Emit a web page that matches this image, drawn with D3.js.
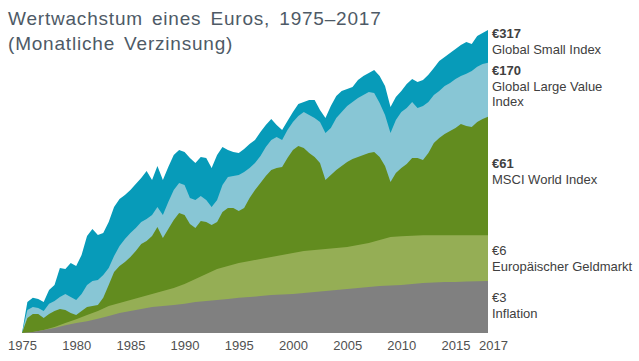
<!DOCTYPE html>
<html>
<head>
<meta charset="utf-8">
<script src="https://cdn.jsdelivr.net/npm/d3@7"></script>
<style>
  body { margin: 0; background: #fff; }
  svg { display: block; font-family: "Liberation Sans", Arial, sans-serif; }
</style>
</head>
<body>
<div id="chart"></div>
<script>
const smallCap = [
  1.00, 1.80, 1.95, 1.91, 1.80, 2.26, 2.49, 3.44, 3.38, 3.78,
  3.57, 4.41, 6.32, 7.22, 6.44, 6.69, 8.25, 10.97, 12.78, 13.79,
  15.16, 17.0, 19.05, 21.76, 18.34, 23.93, 18.34, 23.48, 29.49, 32.44,
  31.23, 27.86, 25.33, 28.39, 27.86, 23.04, 29.49, 34.34, 32.44, 31.23,
  30.64, 33.06, 36.36, 39.22, 45.67, 52.18, 58.48, 52.18, 47.44, 56.3,
  66.76, 77.7, 80.8, 83.96, 83.96, 69.3, 59.6, 74.8, 90.6, 99.6,
  103.5, 107.5, 122.8, 132.5, 140.3, 148.5, 132.5, 109.6, 73.4, 88.9,
  99.6, 113.8, 125.2, 118.2, 122.8, 135.1, 154.3, 176.2, 190.1, 205.2,
  221.4, 238.9, 252.9, 243.5, 283.4, 300.1, 317
];
const largeValue = [
  1.00, 1.55, 1.64, 1.61, 1.52, 1.74, 1.84, 1.98, 2.10, 1.98,
  1.87, 2.10, 2.49, 2.69, 2.74, 3.01, 3.44, 4.32, 5.23, 5.97,
  6.69, 7.36, 8.25, 8.74, 9.43, 10.97, 9.43, 12.07, 15.16, 17.32,
  16.67, 13.02, 12.54, 13.53, 12.54, 10.97, 12.54, 16.67, 19.41, 19.79,
  20.17, 21.35, 23.04, 25.33, 28.94, 34.34, 39.22, 41.53, 39.22, 47.44,
  55.24, 61.92, 66.76, 63.11, 59.6, 55.24, 44.81, 49.28, 59.6, 66.76,
  74.8, 80.8, 87.2, 92.3, 97.7, 95.9, 79.3, 63.1, 44.8, 57.4,
  66.8, 72.0, 80.8, 72.0, 74.8, 80.8, 92.3, 99.6, 109.6, 116.0,
  125.2, 132.5, 137.7, 145.7, 157.3, 166.5, 170
];
const msciWorld = [
  1.00, 1.33, 1.435, 1.435, 1.33, 1.435, 1.52, 1.58, 1.55, 1.46,
  1.41, 1.52, 1.64, 1.67, 1.70, 1.95, 2.49, 3.19, 3.57, 3.86,
  4.24, 4.75, 5.43, 5.75, 6.32, 7.50, 6.09, 7.22, 8.57, 9.79,
  9.43, 7.94, 7.36, 8.41, 8.25, 7.79, 8.25, 9.98, 10.77, 10.77,
  10.17, 10.77, 13.02, 15.16, 17.32, 19.79, 22.18, 23.04, 23.48, 27.86,
  32.44, 35.0, 33.7, 30.64, 28.39, 25.33, 18.34, 20.17, 22.18, 23.93,
  25.82, 27.33, 28.39, 29.49, 30.64, 31.23, 28.39, 23.93, 17.65, 20.95,
  23.04, 24.86, 27.86, 27.86, 26.82, 30.64, 37.05, 40.75, 43.97, 46.55,
  49.28, 53.18, 51.19, 50.23, 55.24, 58.48, 61
];
// jährlich (Januar), letzter Punkt = Ende 2017
const geldmarkt = [
  1.00, 1.02, 1.06, 1.12, 1.21, 1.30, 1.41, 1.52, 1.67, 1.77,
  1.87, 1.98, 2.10, 2.22, 2.35, 2.54, 2.79, 3.07, 3.38, 3.57,
  3.78, 3.93, 4.08, 4.24, 4.41, 4.58, 4.75, 4.85, 4.94, 5.03,
  5.13, 5.33, 5.54, 5.86, 6.2, 6.3, 6.35, 6.4, 6.4, 6.4,
  6.4, 6.4, 6.4, 6.4
];
const inflation = [
  1.00, 1.02, 1.06, 1.10, 1.16, 1.21, 1.25, 1.31, 1.38, 1.46,
  1.52, 1.58, 1.64, 1.67, 1.70, 1.74, 1.80, 1.84, 1.87, 1.91,
  1.95, 1.98, 2.02, 2.06, 2.08, 2.10, 2.14, 2.18, 2.22, 2.26,
  2.31, 2.35, 2.40, 2.44, 2.47, 2.49, 2.54, 2.59, 2.61, 2.64,
  2.64, 2.66, 2.68, 2.69
];

const endValues = ["€317", "€170", "€61", "€6", "€3"];
const seriesNames = [["Global Small Index"], ["Global Large Value", "Index"], ["MSCI World Index"], ["Europäischer Geldmarkt"], ["Inflation"]];
const tickYears = [1975, 1980, 1985, 1990, 1995, 2000, 2005, 2010, 2015, 2017];

// Zeitachsen
const halfYears = [];
const fullYears = [];
for (let y = 1975; y <= 2017; y++) {
  halfYears.push(new Date(y, 0, 1), new Date(y, 6, 1));
  fullYears.push(new Date(y, 0, 1));
}
const endDate = new Date(2017, 11, 31);
halfYears.push(endDate);
fullYears.push(endDate);

const width = 639, height = 361;
const colors = ["#079bb9", "#88c6d5", "#628c1f", "#95ae55", "#808080"];

const svg = d3.select("#chart").append("svg")
  .attr("width", width)
  .attr("height", height);

const x = d3.scaleTime()
  .domain([new Date(1975, 0, 1), endDate])
  .range([22, 488]);

const y = d3.scaleLog()
  .domain([1, 317])
  .range([333, 30]);

const area = d3.area()
  .x(d => x(d[0]))
  .y0(y(1))
  .y1(d => y(d[1]))
  .curve(d3.curveLinear);

const series = [
  { dates: halfYears, values: smallCap },
  { dates: halfYears, values: largeValue },
  { dates: halfYears, values: msciWorld },
  { dates: fullYears, values: geldmarkt },
  { dates: fullYears, values: inflation }
];

svg.selectAll("path.area")
  .data(series)
  .join("path")
  .attr("class", "area")
  .attr("fill", (d, i) => colors[i])
  .attr("d", d => area(d3.zip(d.dates, d.values)));

// x-Achse
const tickDates = tickYears.map(t => t === 2017 ? endDate : new Date(t, 0, 1));
const xAxis = svg.append("g")
  .attr("transform", `translate(0,${y(1)})`)
  .call(d3.axisBottom(x)
    .tickValues(tickDates)
    .tickFormat(d => d === endDate ? "2017" : d3.timeFormat("%Y")(d))
    .tickSize(0)
    .tickPadding(8));
xAxis.select(".domain").remove();
xAxis.selectAll("text")
  .attr("fill", "#505050")
  .style("font-size", "13px")
  .style("font-family", "'Liberation Sans', Arial, sans-serif")
  .attr("dx", d => d === endDate ? 5 : 0);

// Titel
const title = svg.append("g")
  .attr("fill", "#4e5a66")
  .style("font-size", "19px")
  .style("letter-spacing", "0.8px")
  .style("word-spacing", "3px");
title.append("text")
  .attr("x", 8).attr("y", 25)
  .text("Wertwachstum eines Euros, 1975–2017");
title.append("text")
  .attr("x", 8).attr("y", 50)
  .text("(Monatliche Verzinsung)");

// Beschriftung rechts
const labelTop = [38, 75, 168, 255, 302];
const boldValue = [true, true, true, false, false];
const labels = svg.append("g").attr("fill", "#404040").style("font-size", "13px");
endValues.forEach((v, i) => {
  labels.append("text")
    .attr("x", 492).attr("y", labelTop[i])
    .style("font-weight", boldValue[i] ? "bold" : "normal")
    .text(v);
  seriesNames[i].forEach((line, j) => {
    labels.append("text")
      .attr("x", 492).attr("y", labelTop[i] + 16 + j * 15)
      .text(line);
  });
});
</script>
</body>
</html>
